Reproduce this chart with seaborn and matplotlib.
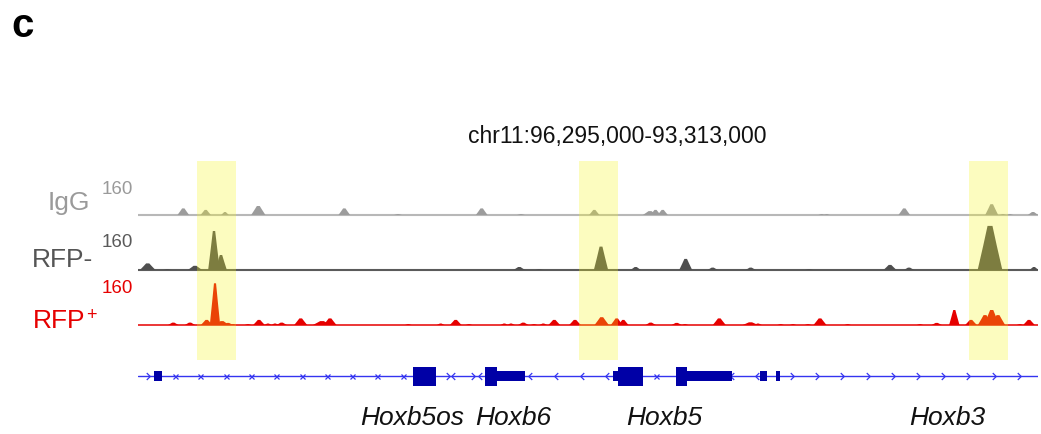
import numpy as np
import pandas as pd
import matplotlib
matplotlib.use("Agg")
import matplotlib.pyplot as plt
from matplotlib.patches import Rectangle
from matplotlib.path import Path
import seaborn as sns

# ---------------- data (bp offsets within the 18 kb window, signal on 0-160 scale) -------------
region_label = "chr11:96,295,000-93,313,000"
region_start, region_end = 0, 18000
scale_max = 160

track_names = ["IgG", "RFP-", "RFP"]
track_sups = ["", "", "+"]

igg_pos = [906, 1354, 1740, 2406, 4126, 5200, 6874, 7660, 9126, 10240, 10350, 10494,
           13674, 13774, 15326, 17074, 17300, 17440, 17900]
igg_val = [22, 17, 10, 30, 22, 3, 22, 3, 17, 13, 17, 17,
           3, 3, 22, 36, 3, 3, 10]
igg_wid = [90, 80, 60, 110, 90, 60, 90, 60, 80, 110, 80, 80,
           50, 50, 90, 100, 50, 50, 80]

neg_pos = [194, 586, 1140, 1520, 1660, 7626, 8026, 9260, 9954, 10954, 11494, 12254,
           13420, 15040, 15420, 17040, 17920]
neg_val = [22, 3, 14, 130, 50, 10, 3, 78, 10, 37, 8, 8,
           3, 17, 8, 147, 10]
neg_wid = [120, 60, 110, 90, 90, 90, 60, 110, 80, 100, 80, 80,
           60, 100, 80, 190, 70]

pos_pos = [706, 1040, 1374, 1540, 1680, 1800, 1900, 2200, 2420, 2600, 2740, 2874,
           3254, 3680, 3840, 5406, 6054, 6354, 6620, 7326, 7460, 7706, 7920, 8106,
           8326, 8740, 9274, 9574, 9706, 10254, 10774, 10940, 11626, 12250, 12400,
           12854, 13100, 13400, 13640, 14194, 15640, 15974, 16326, 16660, 16940,
           17074, 17200, 17640, 17820]
pos_val = [8, 8, 17, 139, 13, 7, 3, 3, 17, 5, 5, 8,
           22, 13, 22, 3, 5, 17, 3, 5, 5, 8, 3, 5,
           17, 17, 26, 22, 17, 8, 7, 3, 22, 9, 5,
           3, 3, 3, 22, 3, 3, 7, 50, 17, 33,
           50, 33, 3, 17]
pos_wid = [80, 80, 90, 80, 110, 80, 50, 50, 90, 60, 60, 80,
           100, 140, 100, 50, 60, 90, 50, 60, 60, 80, 50, 60,
           90, 90, 110, 90, 80, 80, 80, 50, 100, 120, 60,
           50, 50, 50, 100, 50, 50, 80, 80, 90, 110,
           120, 110, 50, 90]

highlight_start = [1180, 8820, 16620]
highlight_end = [1960, 9600, 17400]

exon_start = [326, 5506, 6940, 7174, 9506, 9606, 10760, 10974, 12440, 12760]
exon_end = [486, 5954, 7174, 7740, 9606, 10106, 10974, 11874, 12586, 12840]
exon_thick = [0, 1, 1, 0, 0, 1, 1, 0, 0, 0]

chev_right = [200, 6194, 6700, 13074, 13586, 14086, 14594, 15106, 15606, 16106,
              16606, 17120, 17626]
chev_left = [6300, 6840, 7840, 8360, 8874, 9374, 11874, 12374]
chev_cross = [740, 1240, 1754, 2260, 2760, 3274, 3774, 4274, 4786, 5294, 10360]

gene_names = ["Hoxb5os", "Hoxb6", "Hoxb5", "Hoxb3"]
gene_label_pos = [5490, 7510, 10520, 16190]

# ---------------- style ----------------
sns.set_theme(style="white")
plt.rcParams["font.family"] = ["Liberation Sans", "DejaVu Sans"]

W, H = 1041, 434
fig = plt.figure(figsize=(W / 100, H / 100), dpi=100)


def fx(px):
    return px / W


def fy(py):
    return 1 - py / H


X0, X1 = 138, 1038
width_scale = 1.3

tracks = [
    dict(pos=igg_pos, val=igg_val, wid=igg_wid, fill="#9c9c9c", line="#b8b8b8",
         lw=1.5, base=215, lab="#9a9a9a", scale="#9a9a9a"),
    dict(pos=neg_pos, val=neg_val, wid=neg_wid, fill="#4f4f4f", line="#5a5a5a",
         lw=1.5, base=270, lab="#555555", scale="#5a5a5a"),
    dict(pos=pos_pos, val=pos_val, wid=pos_wid, fill="#e60000", line="#e60000",
         lw=1.1, base=325, lab="#e60000", scale="#e60000"),
]

px_per_unit = 48 / scale_max
for t in tracks:
    top = t["base"] - 48
    bot = t["base"] + 3
    ax = fig.add_axes([fx(X0), fy(bot), fx(X1 - X0), (bot - top) / H])
    ax.set_xlim(region_start, region_end)
    ax.set_ylim(-3 / px_per_unit, scale_max)
    ax.set_axis_off()
    df = pd.DataFrame({"x": [region_start, region_end], "y": [0, 0]})
    sns.lineplot(data=df, x="x", y="y", ax=ax, color=t["line"], lw=t["lw"],
                 legend=False, zorder=1)
    for p, v, w in zip(t["pos"], t["val"], t["wid"]):
        w = w * width_scale
        ax.fill([p - w, p - 0.55 * w, p - 0.2 * w, p + 0.2 * w, p + 0.55 * w, p + w],
                [0, 0.55 * v, v, v, 0.55 * v, 0],
                color=t["fill"], lw=0, zorder=2)

# track labels and scale labels
lab_font = 19
fig.text(fx(90), fy(210), track_names[0], color=tracks[0]["lab"], fontsize=lab_font,
         ha="right", va="baseline")
fig.text(fx(93), fy(267), track_names[1], color=tracks[1]["lab"], fontsize=lab_font,
         ha="right", va="baseline")
fig.text(fx(85), fy(328), track_names[2], color=tracks[2]["lab"], fontsize=lab_font,
         ha="right", va="baseline")
fig.text(fx(86.5), fy(319.5), track_sups[2], color=tracks[2]["lab"], fontsize=13,
         ha="left", va="baseline")
for t, yb in zip(tracks, [194, 247, 293]):
    fig.text(fx(133), fy(yb), str(scale_max), color=t["scale"], fontsize=13.5,
             ha="right", va="baseline")

# region title
fig.text(fx(617), fy(143), region_label, fontsize=16.5, ha="center", va="baseline",
         color="#111111")
fig.text(fx(11), fy(37), "c", fontsize=29, fontweight="bold", ha="left",
         va="baseline", color="black")

# gene model
gax = fig.add_axes([fx(X0), fy(396), fx(X1 - X0), 40 / H])
gax.set_xlim(region_start, region_end)
gax.set_ylim(-20, 20)
gax.set_axis_off()
blue_line = "#3434f0"
navy = "#0000a6"
gdf = pd.DataFrame({"x": [region_start, region_end], "y": [0, 0]})
sns.lineplot(data=gdf, x="x", y="y", ax=gax, color=blue_line, lw=1.0, legend=False)
for s, e, th in zip(exon_start, exon_end, exon_thick):
    hh = 9.5 if th else 5
    gax.add_patch(Rectangle((s, -hh), e - s, 2 * hh, color=navy, lw=0, zorder=3))
rpath = Path([(-0.5, 1), (0.5, 0), (-0.5, -1)], [Path.MOVETO, Path.LINETO, Path.LINETO])
lpath = Path([(0.5, 1), (-0.5, 0), (0.5, -1)], [Path.MOVETO, Path.LINETO, Path.LINETO])
gax.plot(chev_right, [0] * len(chev_right), ls="none", marker=rpath, ms=5,
         mfc="none", mec=blue_line, mew=0.9)
gax.plot(chev_left, [0] * len(chev_left), ls="none", marker=lpath, ms=5,
         mfc="none", mec=blue_line, mew=0.9)
gax.plot(chev_cross, [0] * len(chev_cross), ls="none", marker="x", ms=3.6,
         mec=blue_line, mew=0.9)

# gene names (positions in bp mapped through the gene axis)
lax = fig.add_axes([fx(X0), fy(434), fx(X1 - X0), 40 / H])
lax.set_xlim(region_start, region_end)
lax.set_ylim(434, 394)
lax.set_axis_off()
for name, p in zip(gene_names, gene_label_pos):
    lax.text(p, 425, name, fontsize=19, style="italic", ha="center", va="baseline",
             color="#111111")

# highlight overlay
hax = fig.add_axes([fx(X0), fy(360), fx(X1 - X0), (360 - 161) / H])
hax.set_xlim(region_start, region_end)
hax.set_ylim(0, 1)
hax.set_axis_off()
hax.set_zorder(10)
hax.patch.set_visible(False)
for s, e in zip(highlight_start, highlight_end):
    hax.axvspan(s, e, color=(0.97, 0.97, 0.1), alpha=0.28, lw=0)

fig.savefig("out.png", dpi=100, facecolor="white")
